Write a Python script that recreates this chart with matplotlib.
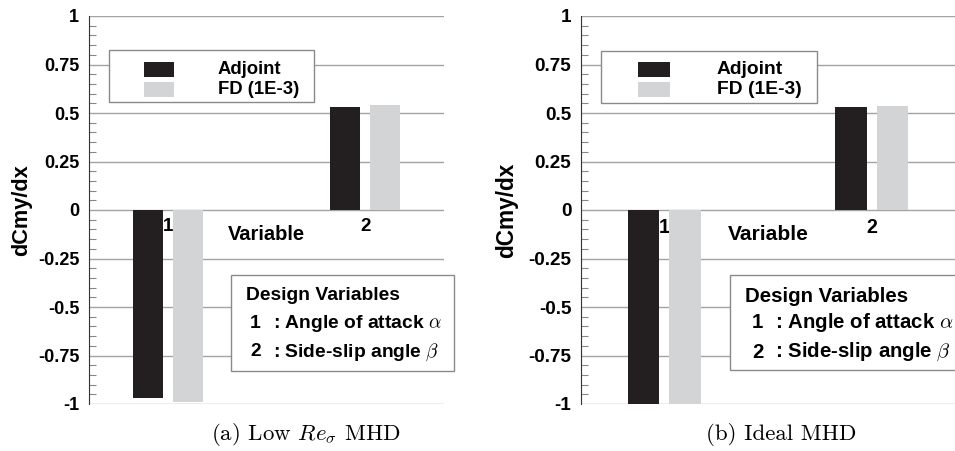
import matplotlib
matplotlib.use("Agg")
import matplotlib.pyplot as plt
from matplotlib.patches import Rectangle
from matplotlib.ticker import MultipleLocator

# data
variables = [1, 2]
series_names = ["Adjoint", "FD (1E-3)"]
low_re_adjoint = [-0.97, 0.532]
low_re_fd = [-0.99, 0.541]
ideal_adjoint = [-1.0, 0.530]
ideal_fd = [-1.0, 0.538]
yticks = [-1, -0.75, -0.5, -0.25, 0, 0.25, 0.5, 0.75, 1]
ytick_labels = ["-1", "-0.75", "-0.5", "-0.25", "0", "0.25", "0.5", "0.75", "1"]
design_title = "Design Variables"
design_items = [("1", r": Angle of attack $\alpha$"), ("2", r": Side-slip angle $\beta$")]
captions = [r"(a) Low $Re_\sigma$ MHD", "(b) Ideal MHD"]

W, H = 955, 451
BLACK = "#231f20"
GREY = "#d3d4d6"
GRID = "#a3a3a3"

plt.rcParams["font.family"] = ["Liberation Sans", "DejaVu Sans"]
plt.rcParams["mathtext.fontset"] = "cm"

fig = plt.figure(figsize=(W / 100, H / 100), dpi=100)


def fx(x):
    return x / W


def fy(y):
    return 1 - y / H


def box(x0, y0, x1, y1, **kw):
    fig.patches.append(Rectangle((fx(x0), fy(y1)), fx(x1) - fx(x0), fy(y0) - fy(y1),
                                 transform=fig.transFigure, **kw))


def panel(left, right, adj, fd, fs, leg1, leg2, caption_x, caption):
    ax = fig.add_axes([fx(left), fy(404), fx(right) - fx(left), fy(16) - fy(404)])
    w = 0.152
    ax.bar([v - 0.1 for v in variables], adj, width=w, color=BLACK, zorder=3)
    ax.bar([v + 0.1 for v in variables], fd, width=w, color=GREY, zorder=3)
    ax.set_xlim(0.6, 2.4)
    ax.set_ylim(-1, 1)
    ax.set_yticks(yticks)
    ax.set_yticklabels(ytick_labels, fontsize=fs, fontweight="bold")
    ax.yaxis.set_minor_locator(MultipleLocator(0.05))
    ax.tick_params(axis="y", which="major", length=0, pad=7)
    ax.tick_params(axis="y", which="minor", direction="in", length=5, color="#888888", width=0.8)
    ax.grid(axis="y", color=GRID, lw=1, zorder=1)
    ax.set_axisbelow(True)
    for s in ["top", "right"]:
        ax.spines[s].set_visible(False)
    ax.spines["left"].set_color("#333333")
    ax.spines["bottom"].set_position(("data", 0))
    ax.spines["bottom"].set_visible(False)
    ax.set_xticks(variables)
    ax.set_xticklabels([str(v) for v in variables], fontsize=fs + 0.5, fontweight="bold")
    ax.tick_params(axis="x", length=0, pad=6)
    for t in ax.get_xticklabels():
        t.set_bbox(dict(facecolor="white", edgecolor="none", pad=0.5))
        t.set_zorder(5)
    ax.set_xlabel("Variable", fontsize=fs + 1.5, fontweight="bold")
    ax.xaxis.set_label_coords(0.5, (404 - 235) / 388)
    ax.xaxis.label.set_va("center")
    ax.set_ylabel("dCmy/dx", fontsize=fs + 2.7, fontweight="bold")
    ax.yaxis.set_label_coords(-(left - leg1["ylab"]) / (right - left), 0.5)
    ax.yaxis.label.set_va("center")

    # series legend
    x0, y0, x1, y1 = leg1["box"]
    box(x0, y0, x1, y1, facecolor="white", edgecolor="#8a8a8a", lw=1, zorder=4)
    px0, px1 = leg1["patch"]
    for (ya, yb), col, name in zip([(62, 77), (82, 97)], [BLACK, GREY], series_names):
        box(px0, ya, px1, yb, facecolor=col, edgecolor="none", zorder=5)
        fig.text(fx(leg1["text"]), fy((ya + yb) / 2), name, fontsize=fs + 0.3,
                 fontweight="bold", va="center", ha="left", zorder=6)

    # design variables box
    x0, y0, x1, y1 = leg2["box"]
    box(x0, y0, x1, y1, facecolor="white", edgecolor="#8a8a8a", lw=1, zorder=4)
    fig.text(fx(leg2["title"]), fy(296), design_title, fontsize=leg2["fs"],
             fontweight="bold", va="center", ha="left", zorder=6)
    for (num, desc), yy in zip(design_items, [323, 352]):
        fig.text(fx(leg2["num"]), fy(yy), num, fontsize=leg2["fs"], fontweight="bold",
                 va="center", ha="left", zorder=6)
        fig.text(fx(leg2["desc"]), fy(yy), desc, fontsize=leg2["fs"], fontweight="bold",
                 va="center", ha="left", zorder=6)

    fig.text(fx(caption_x), fy(435), caption, fontsize=16.5, family="cmr10",
             ha="center", va="center")
    return ax


panel(89, 444, low_re_adjoint, low_re_fd, 13,
      dict(box=(109, 50, 314, 102), patch=(144, 174), text=218, ylab=22),
      dict(box=(231, 275, 454, 371), title=246, num=250, desc=273, fs=13.9),
      306, captions[0])
panel(581, 955, ideal_adjoint, ideal_fd, 13.6,
      dict(box=(601, 51, 817, 103), patch=(638, 670), text=717, ylab=507),
      dict(box=(730, 275, 962, 370), title=745, num=752, desc=775, fs=14.7),
      781, captions[1])

fig.savefig("out.png", dpi=100)
